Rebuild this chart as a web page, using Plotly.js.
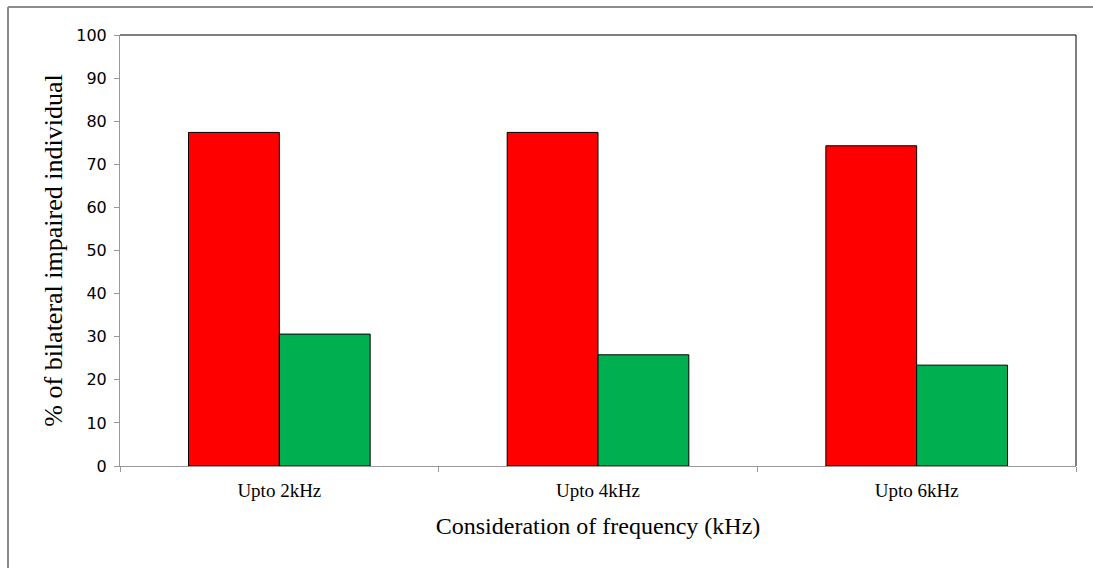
<!DOCTYPE html>
<html>
<head>
<meta charset="utf-8">
<script src="https://cdn.plot.ly/plotly-3.0.1.min.js"></script>
<style>html,body{margin:0;padding:0;background:#fff;}#chart{width:1093px;height:568px;}</style>
</head>
<body>
<div id="chart"></div>
<script>
const categories = ["Upto 2kHz", "Upto 4kHz", "Upto 6kHz"];
const seriesRed = [77.4, 77.4, 74.3];
const seriesGreen = [30.6, 25.8, 23.4];
const yTicks = [0, 10, 20, 30, 40, 50, 60, 70, 80, 90, 100];

const traces = [
  {type: 'bar', x: categories, y: seriesRed, name: 'Series 1',
   marker: {color: '#FF0000', line: {color: '#000000', width: 1}}},
  {type: 'bar', x: categories, y: seriesGreen, name: 'Series 2',
   marker: {color: '#00B050', line: {color: '#000000', width: 1}}}
];

const layout = {
  width: 1093, height: 568,
  margin: {l: 120, r: 17, t: 35, b: 102},
  paper_bgcolor: '#ffffff', plot_bgcolor: '#ffffff',
  showlegend: false,
  barmode: 'group', bargap: 0.43, bargroupgap: 0,
  xaxis: {
    type: 'category',
    showgrid: false, zeroline: false,
    showline: true, linecolor: '#999999', linewidth: 1,
    ticks: 'outside', tickson: 'boundaries', ticklen: 5, tickcolor: '#999999',
    ticklabelstandoff: 7,
    tickfont: {family: 'Liberation Serif', size: 19, color: '#000'},
    title: {text: 'Consideration of frequency (kHz)', font: {family: 'Liberation Serif', size: 24, color: '#000'}, standoff: 17}
  },
  yaxis: {
    range: [0, 100], tickvals: yTicks, ticktext: yTicks.map(String),
    showgrid: false, zeroline: false,
    showline: true, linecolor: '#999999', linewidth: 1,
    ticks: 'outside', ticklen: 5, tickcolor: '#999999',
    ticklabelstandoff: 4,
    tickfont: {family: 'DejaVu Sans', size: 16, color: '#000'},
    title: {text: '% of bilateral impaired individual', font: {family: 'Liberation Serif', size: 26, color: '#000'}, standoff: 6}
  },
  shapes: [
    {type: 'line', xref: 'paper', yref: 'paper', x0: 0, x1: 1, y0: 1, y1: 1, line: {color: '#000', width: 1}},
    {type: 'line', xref: 'paper', yref: 'paper', x0: 1, x1: 1, y0: 0, y1: 1, line: {color: '#000', width: 1}},
    {type: 'line', xref: 'paper', yref: 'paper', x0: (8-120)/956, x1: 1.02, y0: 1 + (35-7)/431, y1: 1 + (35-7)/431, line: {color: '#8c8c8c', width: 2}},
    {type: 'line', xref: 'paper', yref: 'paper', x0: (8-120)/956, x1: (8-120)/956, y0: 1 + (35-7)/431, y1: -0.3, line: {color: '#8c8c8c', width: 2}}
  ]
};

Plotly.newPlot('chart', traces, layout, {displayModeBar: false, staticPlot: true});
</script>
</body>
</html>
